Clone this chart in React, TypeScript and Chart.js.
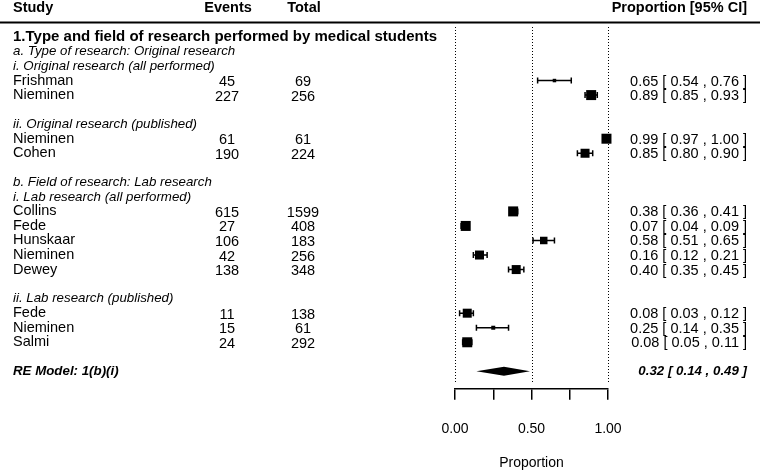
import React, { useEffect, useRef } from "react";
import { Chart, registerables } from "chart.js";

Chart.register(...registerables);

// ---- data ----
const studies = ["Frishman", "Nieminen", "Nieminen", "Cohen", "Collins", "Fede", "Hunskaar", "Nieminen", "Dewey", "Fede", "Nieminen", "Salmi"];
const events = [45, 227, 61, 190, 615, 27, 106, 42, 138, 11, 15, 24];
const totals = [69, 256, 61, 224, 1599, 408, 183, 256, 348, 138, 61, 292];
const estimates = [0.65, 0.89, 0.99, 0.85, 0.38, 0.07, 0.58, 0.16, 0.40, 0.08, 0.25, 0.08];
const lowers = [0.54, 0.85, 0.97, 0.80, 0.36, 0.04, 0.51, 0.12, 0.35, 0.03, 0.14, 0.05];
const uppers = [0.76, 0.93, 1.00, 0.90, 0.41, 0.09, 0.65, 0.21, 0.45, 0.12, 0.35, 0.11];
const weights = [0.35, 1.0, 1.0, 0.9, 1.0, 1.0, 0.75, 0.9, 0.9, 0.9, 0.4, 1.0];
const studyRows = [3, 4, 7, 8, 12, 13, 14, 15, 16, 19, 20, 21];

const titleRow = { row: 0, text: "1.Type and field of research performed by medical students" };
const subLabels = [
  { row: 1, text: "a. Type of research: Original research" },
  { row: 2, text: "i. Original research (all performed)" },
  { row: 6, text: "ii. Original research (published)" },
  { row: 10, text: "b. Field of research: Lab research" },
  { row: 11, text: "i. Lab research (all performed)" },
  { row: 18, text: "ii. Lab research (published)" },
];
const model = { row: 23, label: "RE Model: 1(b)(i)", est: 0.32, lb: 0.14, ub: 0.49 };
const refLines = [0, 0.5, 1];
const tickValues = [0, 0.25, 0.5, 0.75, 1];
const tickLabels = ["0.00", "", "0.50", "", "1.00"];

const FONT = "'Liberation Sans', Arial, Helvetica, sans-serif";
const fmt = (v: number) => v.toFixed(2);

const forestPlugin = {
  id: "forest",
  beforeDatasetsDraw(chart: any) {
    const { ctx, scales } = chart;
    const xs = scales.x;
    const ys = scales.y;
    ctx.save();
    // header line
    ctx.strokeStyle = "#000";
    ctx.lineWidth = 2;
    ctx.beginPath();
    ctx.moveTo(0, 22.5);
    ctx.lineTo(760, 22.5);
    ctx.stroke();
    // dotted reference lines
    ctx.lineWidth = 1;
    ctx.setLineDash([1, 2]);
    refLines.forEach((v) => {
      const px = Math.round(xs.getPixelForValue(v)) + 0.5;
      ctx.beginPath();
      ctx.moveTo(px, 27);
      ctx.lineTo(px, 384);
      ctx.stroke();
    });
    ctx.setLineDash([]);
    // whiskers
    ctx.lineWidth = 1.5;
    estimates.forEach((_, i) => {
      const y = ys.getPixelForValue(studyRows[i]);
      const x1 = xs.getPixelForValue(lowers[i]);
      const x2 = xs.getPixelForValue(uppers[i]);
      ctx.beginPath();
      ctx.moveTo(x1, y);
      ctx.lineTo(x2, y);
      ctx.moveTo(x1, y - 3);
      ctx.lineTo(x1, y + 3);
      ctx.moveTo(x2, y - 3);
      ctx.lineTo(x2, y + 3);
      ctx.stroke();
    });
    // diamond
    const dy = ys.getPixelForValue(model.row);
    ctx.fillStyle = "#000";
    ctx.beginPath();
    ctx.moveTo(xs.getPixelForValue(model.lb), dy);
    ctx.lineTo(xs.getPixelForValue(model.est), dy - 4.5);
    ctx.lineTo(xs.getPixelForValue(model.ub), dy);
    ctx.lineTo(xs.getPixelForValue(model.est), dy + 4.5);
    ctx.closePath();
    ctx.fill();
    ctx.restore();
  },
  afterDraw(chart: any) {
    const { ctx, scales } = chart;
    const ys = scales.y;
    ctx.save();
    ctx.fillStyle = "#000";
    ctx.textBaseline = "middle";
    // header
    ctx.font = `bold 14.5px ${FONT}`;
    ctx.textAlign = "left";
    ctx.fillText("Study", 13, 8);
    ctx.textAlign = "center";
    ctx.fillText("Events", 228, 8);
    ctx.fillText("Total", 304, 8);
    ctx.textAlign = "right";
    ctx.fillText("Proportion [95% CI]", 747, 8);
    // title
    ctx.textAlign = "left";
    ctx.font = `bold 15px ${FONT}`;
    ctx.fillText(titleRow.text, 13, ys.getPixelForValue(titleRow.row));
    // sub labels
    ctx.font = `italic 13.3px ${FONT}`;
    subLabels.forEach((s) => ctx.fillText(s.text, 13, ys.getPixelForValue(s.row)));
    // studies
    ctx.font = `14.5px ${FONT}`;
    studies.forEach((name, i) => {
      const y = ys.getPixelForValue(studyRows[i]);
      ctx.textAlign = "left";
      ctx.fillText(name, 13, y);
      ctx.textAlign = "center";
      ctx.fillText(String(events[i]), 227, y + 1.5);
      ctx.fillText(String(totals[i]), 303, y + 1.5);
      ctx.textAlign = "right";
      ctx.fillText(`${fmt(estimates[i])} [ ${fmt(lowers[i])} , ${fmt(uppers[i])} ]`, 747, y + 1);
    });
    // model
    const my = ys.getPixelForValue(model.row);
    ctx.font = `italic bold 13.3px ${FONT}`;
    ctx.textAlign = "left";
    ctx.fillText(model.label, 13, my);
    ctx.textAlign = "right";
    ctx.fillText(`${fmt(model.est)} [ ${fmt(model.lb)} , ${fmt(model.ub)} ]`, 747, my);
    ctx.restore();
  },
};

export default function App() {
  const ref = useRef<HTMLCanvasElement | null>(null);
  useEffect(() => {
    if (!ref.current) return;
    const chart = new Chart(ref.current, {
      type: "scatter",
      data: {
        datasets: [
          {
            data: estimates.map((e, i) => ({ x: e, y: studyRows[i] })),
            pointStyle: "rect",
            pointRadius: weights.map((w) => (w * 10) / Math.SQRT2),
            pointHoverRadius: weights.map((w) => (w * 10) / Math.SQRT2),
            backgroundColor: "#000",
            borderWidth: 0,
            clip: false as any,
          },
        ],
      },
      options: {
        animation: false,
        responsive: true,
        maintainAspectRatio: false,
        events: [],
        layout: { padding: { left: 455, right: 152, top: 25, bottom: 0 } },
        plugins: { legend: { display: false }, tooltip: { enabled: false } },
        scales: {
          x: {
            type: "linear",
            min: 0,
            max: 1,
            afterBuildTicks: (axis: any) => {
              axis.ticks = tickValues.map((v) => ({ value: v }));
            },
            ticks: {
              callback: (_v: any, i: number) => tickLabels[i],
              color: "#000",
              font: { family: FONT, size: 14 },
              padding: 21,
              maxRotation: 0,
              autoSkip: false,
            },
            grid: { drawOnChartArea: false, drawTicks: true, tickLength: 11, color: "#000", lineWidth: 1.5 },
            border: { display: true, color: "#000", width: 1.5 },
            title: {
              display: true,
              text: "Proportion",
              color: "#000",
              font: { family: FONT, size: 14 },
              padding: { top: -4, bottom: 0.6 },
            },
          },
          y: {
            type: "linear",
            reverse: true,
            min: -0.82,
            max: 24.2,
            display: false,
          },
        },
      },
      plugins: [forestPlugin],
    });
    return () => chart.destroy();
  }, []);
  return (
    <div style={{ position: "absolute", left: 0, top: 0, width: 760, height: 472, background: "#fff" }}>
      <canvas ref={ref} />
    </div>
  );
}
